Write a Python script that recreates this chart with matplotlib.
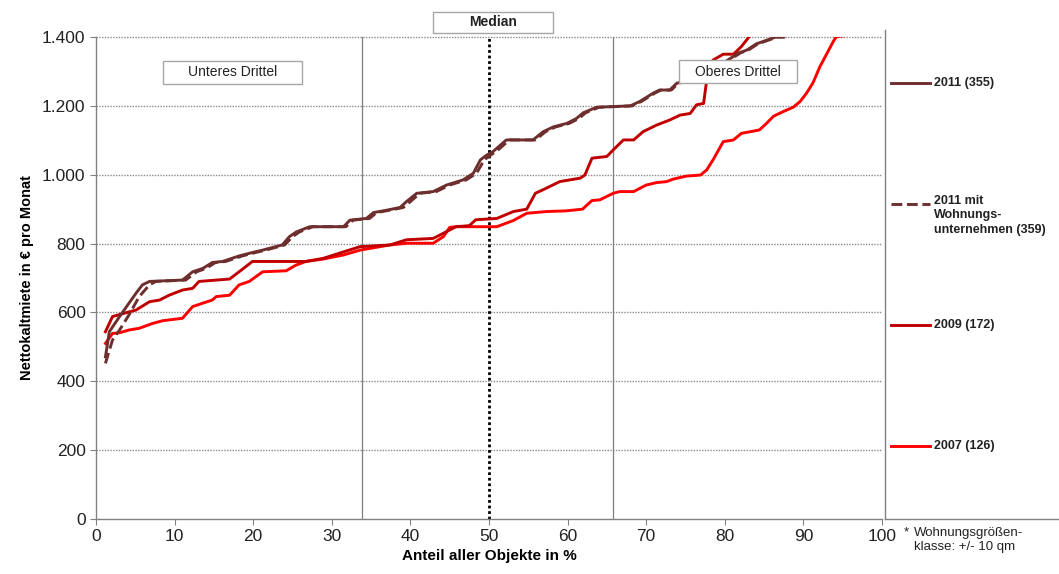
import matplotlib
matplotlib.use("Agg")
import matplotlib.pyplot as plt
from matplotlib.patches import Rectangle
from matplotlib.lines import Line2D
from matplotlib.ticker import FuncFormatter

plt.rcParams['font.family'] = ['Liberation Sans', 'DejaVu Sans']

# share of all objects in % / monthly net rent in EUR
x_2011 = [1.2, 1.7, 3.0, 4.2, 5.1, 5.9, 6.8, 11.0, 12.3, 13.6, 14.8, 16.1, 18.2, 19.9, 21.2,
          23.7, 24.6, 25.5, 27.2, 31.5, 32.3, 34.4, 35.3, 37.0, 38.7, 39.5, 40.8, 42.9, 44.6,
          46.7, 48.0, 48.9, 49.7, 50.5, 52.2, 55.6, 56.9, 58.2, 59.9, 61.1, 62.0, 63.7, 68.0,
          69.2, 70.9, 71.7, 73.0, 73.9, 75.1, 76.5, 78.0, 79.5, 81.8, 82.8, 84.0, 85.5, 86.5, 87.5]
y_2011 = [471, 544, 588, 627, 656, 680, 690, 694, 718, 728, 745, 748, 764, 774, 781,
          796, 820, 834, 849, 849, 868, 873, 890, 897, 905, 922, 946, 951, 970,
          985, 1004, 1043, 1057, 1067, 1101, 1101, 1125, 1139, 1149, 1163, 1180, 1196, 1200,
          1213, 1237, 1246, 1246, 1266, 1271, 1285, 1300, 1320, 1354, 1362, 1380, 1392, 1400, 1400]

x_2011_wu = [1.2, 2.1, 3.0, 4.2, 5.5, 6.8, 7.6, 11.4, 12.8, 14.0, 15.2, 16.5, 18.6, 20.3, 21.6,
             24.0, 25.0, 25.9, 27.6, 31.8, 32.7, 34.8, 35.7, 37.4, 39.1, 40.0, 41.2, 43.3, 45.0,
             47.1, 48.4, 49.4, 50.2, 50.9, 52.6, 55.9, 57.2, 58.5, 60.2, 61.4, 62.3, 64.0, 68.2,
             69.4, 71.1, 71.9, 73.2, 74.1, 75.3, 76.7, 78.2, 79.7, 82.0, 83.0, 84.2, 85.7, 86.7, 87.5]
y_2011_wu = [452, 520, 549, 593, 646, 680, 690, 694, 718, 728, 745, 748, 764, 774, 781,
             796, 820, 834, 849, 849, 868, 873, 890, 897, 905, 922, 946, 951, 970,
             985, 1004, 1043, 1057, 1067, 1101, 1101, 1125, 1139, 1149, 1163, 1180, 1196, 1200,
             1213, 1237, 1246, 1246, 1266, 1271, 1285, 1300, 1320, 1354, 1362, 1380, 1392, 1400, 1400]

x_2009 = [1.2, 2.1, 3.8, 5.1, 6.8, 8.1, 9.3, 11.0, 12.3, 13.1, 17.0, 18.2, 19.9, 26.7, 28.9,
          31.5, 33.6, 37.4, 39.5, 42.9, 44.2, 45.8, 47.5, 48.3, 51.0, 53.1, 54.8, 55.9, 57.3,
          59.0, 61.6, 62.2, 63.1, 65.0, 65.8, 67.1, 68.4, 69.6, 71.3, 73.0, 74.3, 75.6, 76.4,
          77.3, 77.7, 78.5, 79.8, 81.1, 82.1, 82.8, 83.2]
y_2009 = [544, 588, 599, 607, 631, 636, 650, 665, 670, 690, 697, 718, 748, 748, 757,
          776, 791, 796, 811, 815, 830, 849, 852, 869, 873, 893, 900, 946, 961,
          980, 990, 999, 1048, 1053, 1072, 1101, 1101, 1125, 1144, 1159, 1173, 1178, 1203,
          1207, 1275, 1333, 1350, 1350, 1372, 1392, 1404]

x_2007 = [1.2, 2.1, 3.0, 4.2, 5.5, 7.2, 8.5, 11.0, 12.3, 13.6, 14.8, 15.3, 17.0, 18.2, 19.5,
          21.2, 24.2, 25.4, 26.7, 28.9, 31.5, 33.6, 37.4, 39.5, 42.9, 44.2, 45.0, 45.8, 48.9,
          51.0, 53.1, 54.8, 57.3, 59.8, 61.9, 63.1, 64.1, 65.8, 66.6, 68.4, 70.0, 71.3, 72.6,
          73.4, 75.1, 76.9, 77.7, 78.5, 79.8, 81.1, 82.1, 84.4, 85.3, 86.2, 87.4, 88.7, 89.6,
          90.4, 91.2, 92.1, 92.9, 93.8, 94.2, 95.0]
y_2007 = [510, 539, 541, 549, 554, 568, 576, 583, 617, 627, 636, 646, 650, 680, 690,
          718, 721, 737, 748, 755, 767, 781, 796, 801, 801, 820, 847, 849, 849,
          849, 867, 888, 893, 895, 900, 925, 927, 946, 951, 951, 970, 977, 980,
          987, 996, 999, 1014, 1043, 1096, 1101, 1120, 1130, 1149, 1170, 1183, 1196, 1213,
          1237, 1266, 1314, 1348, 1387, 1401, 1403]

series = [
    (x_2011, y_2011, '#6E2E2E', '-', '2011 (355)'),
    (x_2011_wu, y_2011_wu, '#6E2E2E', '--', '2011 mit\nWohnungs-\nunternehmen (359)'),
    (x_2009, y_2009, '#C00000', '-', '2009 (172)'),
    (x_2007, y_2007, '#FF0000', '-', '2007 (126)'),
]

W, H = 1059, 574


def fx(px):
    return px / W


def fy(py):
    return 1 - py / H


fig = plt.figure(figsize=(W / 100, H / 100), dpi=100)
ax = fig.add_axes([fx(96), fy(519), fx(882) - fx(96), fy(37) - fy(519)])

ax.set_xlim(0, 100)
ax.set_ylim(0, 1400)
ax.set_xticks(range(0, 101, 10))
ax.set_yticks(range(0, 1401, 200))
ax.yaxis.set_major_formatter(FuncFormatter(lambda v, p: f"{int(v):,}".replace(',', '.')))
ax.tick_params(labelsize=12.5, colors='#808080', labelcolor='#222222', length=4, width=0.8)
for s in ['top', 'right']:
    ax.spines[s].set_visible(False)
for s in ['left', 'bottom']:
    ax.spines[s].set_color('#808080')
    ax.spines[s].set_linewidth(1)

for yv in range(200, 1401, 200):
    ax.axhline(yv, color='#8c8c8c', lw=1, ls=(0, (1, 1)), zorder=1, clip_on=False)
ax.axvline(33.8, color='#7f7f7f', lw=0.9, zorder=1)
ax.axvline(65.8, color='#7f7f7f', lw=0.9, zorder=1)
ax.axvline(50, color='black', lw=2, ls=(0, (1, 1)), zorder=1)

for xs, ys, c, ls, lab in reversed(series):
    ax.plot(xs, ys, color=c, ls=ls, lw=2.1, zorder=3)

ax.set_ylabel('Nettokaltmiete in € pro Monat', fontsize=10.5, fontweight='bold', labelpad=6)
ax.set_xlabel('Anteil aller Objekte in %', fontsize=11, fontweight='bold', labelpad=3)


def box(x0, y0, x1, y1, text, weight='normal'):
    fig.add_artist(Rectangle((fx(x0), fy(y1)), fx(x1) - fx(x0), fy(y0) - fy(y1),
                             facecolor='white', edgecolor='#a6a6a6', lw=1, zorder=5))
    fig.text(fx((x0 + x1) / 2), fy((y0 + y1) / 2), text, ha='center', va='center',
             fontsize=10, fontweight=weight, color='#222222', zorder=6)


box(163, 61, 302, 84, 'Unteres Drittel')
box(433, 12, 553, 33, 'Median', 'bold')
box(679, 60, 797, 83, 'Oberes Drittel')

# legend panel on the right
fig.add_artist(Line2D([fx(885), fx(885)], [fy(519), fy(30)], color='#808080', lw=1))
fig.add_artist(Line2D([fx(885), fx(1059)], [fy(519), fy(519)], color='#808080', lw=1))
leg_y = [83, 204, 325, 446]
for (xs, ys, c, ls, lab), py in zip(series, leg_y):
    fig.add_artist(Line2D([fx(891), fx(930)], [fy(py), fy(py)], color=c, ls=ls, lw=2.1))
    if '\n' in lab:
        fig.text(fx(934), fy(py - 9), lab, ha='left', va='top', fontsize=9,
                 fontweight='bold', color='#222222', linespacing=1.25)
    else:
        fig.text(fx(934), fy(py), lab, ha='left', va='center', fontsize=9,
                 fontweight='bold', color='#222222')

fig.text(fx(904), fy(532), '*', ha='left', va='center', fontsize=9.5, color='#222222')
fig.text(fx(914), fy(527), 'Wohnungsgrößen-\nklasse: +/- 10 qm', ha='left', va='top',
         fontsize=9.5, color='#222222', linespacing=1.25)

fig.savefig('out.png', dpi=100)
